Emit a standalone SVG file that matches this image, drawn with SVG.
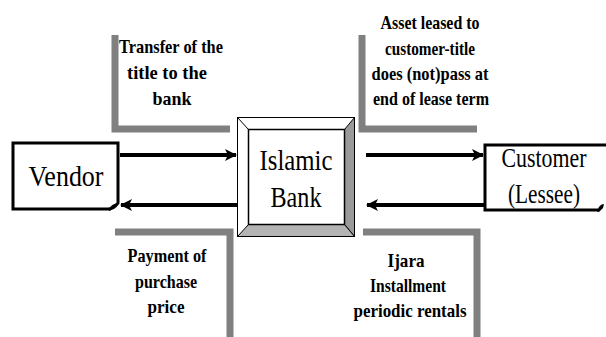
<svg xmlns="http://www.w3.org/2000/svg" width="606" height="337" viewBox="0 0 606 337">
<defs>
<style>
text{font-family:'Liberation Serif','DejaVu Serif',serif}
.big{font-size:30px;fill:#000;text-anchor:middle}
.cus{font-size:27px;fill:#000;text-anchor:middle}
.lbl{font-size:19px;font-weight:bold;fill:#000;text-anchor:middle}
.br{fill:none;stroke:#808080;stroke-width:7}
.arr{fill:none;stroke:#000;stroke-width:4}
.box{fill:#fff;stroke:#000;stroke-width:3}
</style>
<marker id="ah" viewBox="0 0 12 12" refX="11" refY="6" markerWidth="12" markerHeight="12" markerUnits="userSpaceOnUse" orient="auto">
<path d="M0,0 L12,6 L0,12 L3,6 Z" fill="#000"/>
</marker>
</defs>
<rect width="606" height="337" fill="#fff"/>

<g id="brackets">
<path class="br" d="M115,35 V129 H230"/>
<path class="br" d="M362,35 V129 H477"/>
<path class="br" d="M115,232 H230 V337"/>
<path class="br" d="M363,232 H477 V337"/>
</g>

<g id="bank">
<rect x="237.5" y="117.5" width="117" height="119" fill="#fff" stroke="#000" stroke-width="1"/>
<polygon points="344.5,129.5 354.5,117.5 354.5,236.5 344.5,224.5" fill="#9a9a9a" stroke="#000" stroke-width="1"/>
<polygon points="248.5,224.5 344.5,224.5 354.5,236.5 237.5,236.5" fill="#b4b4b4" stroke="#000" stroke-width="1"/>
<line x1="237.5" y1="117.5" x2="248.5" y2="129.5" stroke="#000" stroke-width="1"/>
<rect x="248.5" y="129.5" width="96" height="95" fill="#fff" stroke="#000" stroke-width="1.5"/>
<text class="big" x="296" y="170" textLength="73" lengthAdjust="spacingAndGlyphs">Islamic</text>
<text class="big" x="296" y="207" textLength="51" lengthAdjust="spacingAndGlyphs">Bank</text>
</g>

<g id="vendor">
<path class="box" d="M13,143 H118 V203 Q114,209 108,209 H13 Z"/>
<path d="M108,210 Q112,203 119,203 L116,206 Q113,208 110,211 Z" fill="#000"/>
<text class="big" x="66" y="186" textLength="75" lengthAdjust="spacingAndGlyphs">Vendor</text>
</g>

<g id="customer">
<path d="M606,145 H485 V210 H598" fill="#fff" stroke="#000" stroke-width="3"/>
<path d="M597,211.5 Q599,204 604,204 L603,208 Q601,210 599,212 Z" fill="#000"/>
<text class="cus" x="544" y="167" textLength="85" lengthAdjust="spacingAndGlyphs">Customer</text>
<text class="cus" x="544" y="203" textLength="72" lengthAdjust="spacingAndGlyphs">(Lessee)</text>
</g>

<g id="connectors">
<line class="arr" x1="120" y1="155" x2="236" y2="155" marker-end="url(#ah)"/>
<line class="arr" x1="237" y1="205" x2="121" y2="205" marker-end="url(#ah)"/>
<line class="arr" x1="366" y1="155" x2="483" y2="155" marker-end="url(#ah)"/>
<line class="arr" x1="484" y1="205" x2="367" y2="205" marker-end="url(#ah)"/>
</g>

<g id="labels">
<text class="lbl" x="171" y="53" textLength="104" lengthAdjust="spacingAndGlyphs">Transfer of the</text>
<text class="lbl" x="167" y="79" textLength="80" lengthAdjust="spacingAndGlyphs">title to the</text>
<text class="lbl" x="172" y="105" textLength="39" lengthAdjust="spacingAndGlyphs">bank</text>

<text class="lbl" x="430" y="29" textLength="99" lengthAdjust="spacingAndGlyphs">Asset leased to</text>
<text class="lbl" x="430" y="55" textLength="90" lengthAdjust="spacingAndGlyphs">customer-title</text>
<text class="lbl" x="430" y="80" textLength="117" lengthAdjust="spacingAndGlyphs">does (not)pass at</text>
<text class="lbl" x="431" y="105" textLength="116" lengthAdjust="spacingAndGlyphs">end of lease term</text>

<text class="lbl" x="167" y="262" textLength="79" lengthAdjust="spacingAndGlyphs">Payment of</text>
<text class="lbl" x="166" y="288" textLength="62" lengthAdjust="spacingAndGlyphs">purchase</text>
<text class="lbl" x="166" y="313" textLength="37" lengthAdjust="spacingAndGlyphs">price</text>

<text class="lbl" x="406" y="267" textLength="37" lengthAdjust="spacingAndGlyphs">Ijara</text>
<text class="lbl" x="408" y="292" textLength="76" lengthAdjust="spacingAndGlyphs">Installment</text>
<text class="lbl" x="410" y="317" textLength="113" lengthAdjust="spacingAndGlyphs">periodic rentals</text>
</g>
</svg>
